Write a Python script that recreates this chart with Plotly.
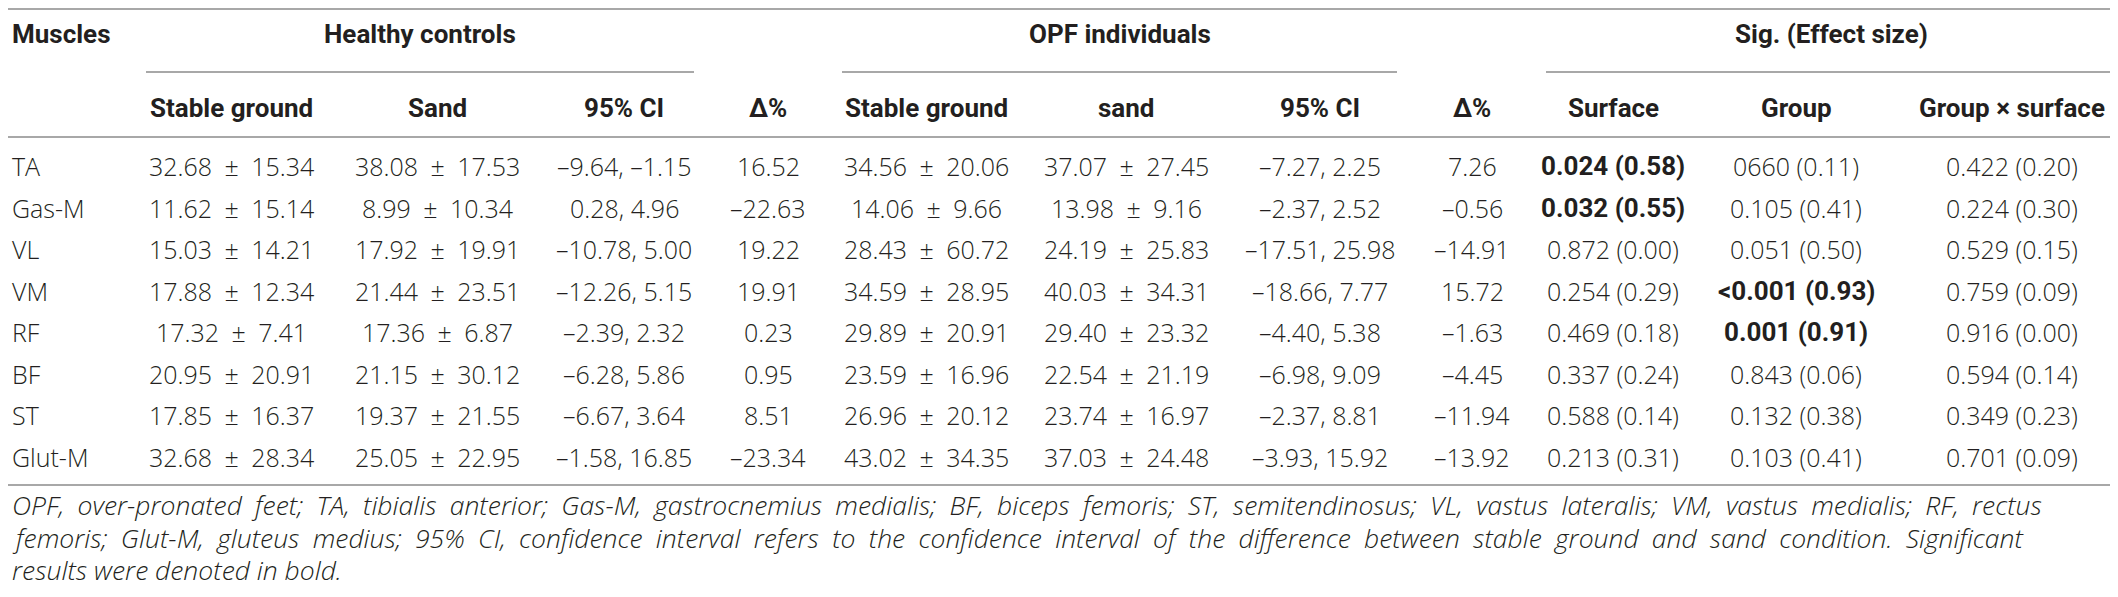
import plotly.graph_objects as go

# ---------------- data ----------------
muscles = ["TA", "Gas-M", "VL", "VM", "RF", "BF", "ST", "Glut-M"]

hc_sg_mean = [32.68, 11.62, 15.03, 17.88, 17.32, 20.95, 17.85, 32.68]
hc_sg_sd = [15.34, 15.14, 14.21, 12.34, 7.41, 20.91, 16.37, 28.34]
hc_sand_mean = [38.08, 8.99, 17.92, 21.44, 17.36, 21.15, 19.37, 25.05]
hc_sand_sd = [17.53, 10.34, 19.91, 23.51, 6.87, 30.12, 21.55, 22.95]
hc_ci_low = [-9.64, 0.28, -10.78, -12.26, -2.39, -6.28, -6.67, -1.58]
hc_ci_high = [-1.15, 4.96, 5.00, 5.15, 2.32, 5.86, 3.64, 16.85]
hc_delta = [16.52, -22.63, 19.22, 19.91, 0.23, 0.95, 8.51, -23.34]

opf_sg_mean = [34.56, 14.06, 28.43, 34.59, 29.89, 23.59, 26.96, 43.02]
opf_sg_sd = [20.06, 9.66, 60.72, 28.95, 20.91, 16.96, 20.12, 34.35]
opf_sand_mean = [37.07, 13.98, 24.19, 40.03, 29.40, 22.54, 23.74, 37.03]
opf_sand_sd = [27.45, 9.16, 25.83, 34.31, 23.32, 21.19, 16.97, 24.48]
opf_ci_low = [-7.27, -2.37, -17.51, -18.66, -4.40, -6.98, -2.37, -3.93]
opf_ci_high = [2.25, 2.52, 25.98, 7.77, 5.38, 9.09, 8.81, 15.92]
opf_delta = [7.26, -0.56, -14.91, 15.72, -1.63, -4.45, -11.94, -13.92]

surface_p = ["0.024", "0.032", "0.872", "0.254", "0.469", "0.337", "0.588", "0.213"]
surface_es = [0.58, 0.55, 0.00, 0.29, 0.18, 0.24, 0.14, 0.31]
group_p = ["0660", "0.105", "0.051", "<0.001", "0.001", "0.843", "0.132", "0.103"]
group_es = [0.11, 0.41, 0.50, 0.93, 0.91, 0.06, 0.38, 0.41]
inter_p = ["0.422", "0.224", "0.529", "0.759", "0.916", "0.594", "0.349", "0.701"]
inter_es = [0.20, 0.30, 0.15, 0.09, 0.00, 0.14, 0.23, 0.09]

group_headers = ["Healthy controls", "OPF individuals", "Sig. (Effect size)"]
sub_headers = ["Stable ground", "Sand", "95% CI", "\u0394%",
               "Stable ground", "sand", "95% CI", "\u0394%",
               "Surface", "Group", "Group \u00d7 surface"]
footnote_lines = [
    "OPF, over-pronated feet; TA, tibialis anterior; Gas-M, gastrocnemius medialis; BF, biceps femoris; ST, semitendinosus; VL, vastus lateralis; VM, vastus medialis; RF, rectus",
    "femoris; Glut-M, gluteus medius; 95% CI, confidence interval refers to the confidence interval of the difference between stable ground and sand condition. Significant",
    "results were denoted in bold.",
]
footnote_justified = [True, True, False]

# ---------------- layout constants (page pixel coordinates) ----------------
PAGE_W, PAGE_H = 2118, 597
BODY_MARGIN = 8  # default HTML body margin; the figure is placed inside it
x_left = 10
col_x = [231, 437, 624, 768, 926, 1126, 1320, 1472, 1613, 1796, 2012]
y_top_rule = 9
y_head1 = 34
y_group_rule = 72
y_head2 = 108
y_head_rule = 137
y_row0 = 166
row_h = 41.5
y_bottom_rule = 485
y_foot = [505, 538, 570]
group_spans = [(146, 694), (842, 1397), (1546, 2117)]

BODY_FONT = "Open Sans, Roboto, Liberation Sans, sans-serif"
HEAD_FONT = "Roboto, Liberation Sans, sans-serif"
TXT = "#231f20"
RULE = "#a8a8a8"
FS = 25
FS_HEAD = 26
FS_FOOT = 26.5
SP = "\u2002"  # spacing around the plus-minus sign
WIDE_SP = "\u2002"  # wider word spacing imitating justified footnote lines


def dash(v):
    s = f"{abs(v):.2f}"
    return ("\u2013" + s) if v < 0 else s


def msd(m, s):
    return f"{m:.2f}{SP}\u00b1{SP}{s:.2f}"


def sig(p, es):
    txt = f"{p} ({es:.2f})"
    try:
        val = float(p.replace("<", ""))
    except ValueError:
        val = 1.0
    return txt, val < 0.05


ann = []


def add(text, x, y, xanchor="center", bold=False, italic=False, size=None):
    if bold:
        font = dict(family=HEAD_FONT, size=size or FS_HEAD, color=TXT, weight=700)
    else:
        font = dict(family=BODY_FONT, size=size or FS, color=TXT, weight=300,
                    style="italic" if italic else "normal")
    ann.append(dict(text=text, x=x, y=y, xref="x", yref="y", showarrow=False,
                    xanchor=xanchor, yanchor="middle", font=font))


# headers
add("Muscles", x_left, y_head1, "left", bold=True)
for (x0, x1), g in zip(group_spans, group_headers):
    add(g, (x0 + x1) / 2, y_head1, bold=True)
for x, h in zip(col_x, sub_headers):
    add(h, x, y_head2, bold=True)

# body
for i, m in enumerate(muscles):
    y = y_row0 + i * row_h
    add(m, x_left, y, "left")
    cells = [
        (msd(hc_sg_mean[i], hc_sg_sd[i]), False),
        (msd(hc_sand_mean[i], hc_sand_sd[i]), False),
        (f"{dash(hc_ci_low[i])}, {dash(hc_ci_high[i])}", False),
        (dash(hc_delta[i]), False),
        (msd(opf_sg_mean[i], opf_sg_sd[i]), False),
        (msd(opf_sand_mean[i], opf_sand_sd[i]), False),
        (f"{dash(opf_ci_low[i])}, {dash(opf_ci_high[i])}", False),
        (dash(opf_delta[i]), False),
        sig(surface_p[i], surface_es[i]),
        sig(group_p[i], group_es[i]),
        sig(inter_p[i], inter_es[i]),
    ]
    for x, (t, b) in zip(col_x, cells):
        add(t, x, y, bold=b)

# footnote
for j, line in enumerate(footnote_lines):
    txt = line.replace(" ", WIDE_SP) if footnote_justified[j] else line
    add(txt, x_left, y_foot[j], "left", italic=True, size=FS_FOOT)

shapes = []
for y in (y_top_rule, y_head_rule, y_bottom_rule):
    shapes.append(dict(type="line", xref="x", yref="y", x0=0, x1=PAGE_W, y0=y, y1=y,
                       line=dict(color=RULE, width=2)))
for x0, x1 in group_spans:
    shapes.append(dict(type="line", xref="x", yref="y", x0=x0, x1=x1,
                       y0=y_group_rule, y1=y_group_rule,
                       line=dict(color=RULE, width=2)))

fig = go.Figure()
fig.update_layout(
    width=PAGE_W - 2 * BODY_MARGIN, height=PAGE_H - 2 * BODY_MARGIN,
    margin=dict(l=0, r=0, t=0, b=0),
    paper_bgcolor="white", plot_bgcolor="white",
    xaxis=dict(range=[BODY_MARGIN, PAGE_W - BODY_MARGIN], visible=False, fixedrange=True),
    yaxis=dict(range=[PAGE_H - BODY_MARGIN, BODY_MARGIN], visible=False, fixedrange=True),
    annotations=ann, shapes=shapes, showlegend=False,
)
fig.write_html("out.html")
